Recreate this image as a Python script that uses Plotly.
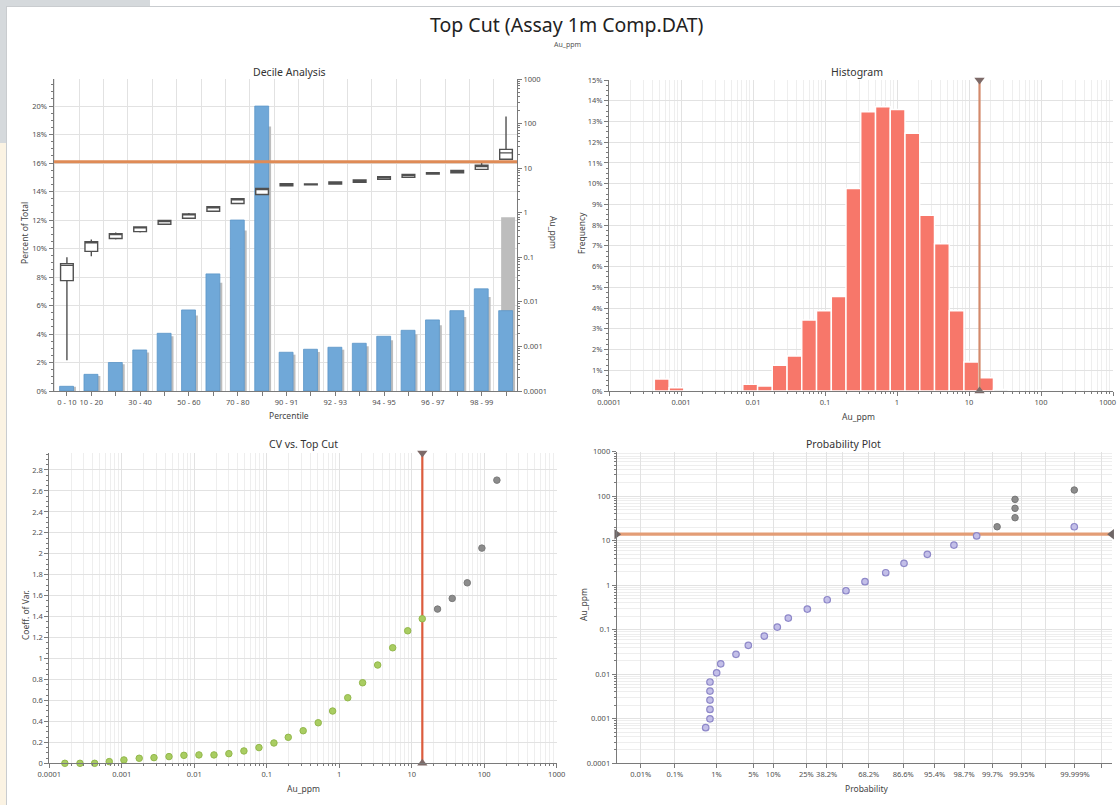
import math
from statistics import NormalDist
import plotly.graph_objects as go

W, H = 1120, 805
FONT = "Segoe UI, Noto Sans, Open Sans, sans-serif"

# ---------------- data ----------------
top_cut = 14.0

decile_labels = ["0 - 10", "10 - 20", "20 - 30", "30 - 40", "40 - 50", "50 - 60",
                 "60 - 70", "70 - 80", "80 - 90", "90 - 91", "91 - 92", "92 - 93",
                 "93 - 94", "94 - 95", "95 - 96", "96 - 97", "97 - 98", "98 - 99",
                 "99 - 100"]
decile_shown = ["0 - 10", "10 - 20", "30 - 40", "50 - 60", "70 - 80",
                "90 - 91", "92 - 93", "94 - 95", "96 - 97", "98 - 99"]
pct_topcut = [0.33, 1.17, 2.00, 2.88, 4.05, 5.69, 8.22, 12.0, 20.0,
              2.72, 2.93, 3.07, 3.35, 3.84, 4.26, 4.99, 5.64, 7.17, 5.64]
pct_raw = [0.30, 1.05, 1.87, 2.70, 3.84, 5.30, 7.60, 11.26, 18.57,
           2.55, 2.74, 2.90, 3.14, 3.56, 3.98, 4.61, 5.20, 6.60, 12.20]

box_low = [0.00049, 0.105, 0.25, 0.36, 0.53, 0.73, 1.05, 1.58, 2.50,
           3.95, 4.20, 4.40, 4.80, 5.60, 6.20, 7.30, 7.90, 9.20, 15.8]
box_q1 = [0.030, 0.136, 0.263, 0.377, 0.55, 0.75, 1.08, 1.61, 2.57,
          4.00, 4.25, 4.40, 4.80, 5.60, 6.20, 7.40, 7.90, 9.40, 15.8]
box_med = [0.066, 0.21, 0.33, 0.46, 0.65, 0.90, 1.30, 1.95, 3.30,
           4.30, 4.32, 4.70, 5.20, 6.10, 6.80, 7.70, 8.50, 10.8, 22.0]
box_q3 = [0.072, 0.224, 0.34, 0.48, 0.667, 0.94, 1.36, 2.05, 3.50,
          4.47, 4.40, 4.90, 5.40, 6.40, 7.20, 7.90, 8.90, 11.6, 26.4]
box_high = [0.100, 0.25, 0.36, 0.50, 0.69, 0.98, 1.42, 2.12, 3.60,
            4.50, 4.40, 4.90, 5.40, 6.40, 7.20, 7.90, 8.90, 13.8, 145.0]

hist_bin_ratio = 1.6  # geometric bin width
hist_center = [0.00054, 0.000865, 0.00914, 0.01466, 0.02344, 0.0376, 0.0602,
               0.0966, 0.1549, 0.2477, 0.397, 0.637, 1.02, 1.635, 2.62, 4.20,
               6.73, 10.77, 17.26, 27.7, 113.7]
hist_freq = [0.58, 0.16, 0.32, 0.24, 1.24, 1.69, 3.42, 3.87, 4.55, 9.77, 13.47,
             13.71, 13.58, 12.43, 8.47, 7.10, 3.87, 1.40, 0.64, 0.08, 0.03]

cv_cut = [0.000164, 0.000265, 0.000422, 0.000672, 0.00107, 0.00174, 0.00278,
          0.00448, 0.0072, 0.0116, 0.0187, 0.030, 0.0484, 0.078, 0.1256, 0.198,
          0.318, 0.513, 0.81, 1.31, 2.10, 3.39, 5.46, 8.8, 13.97,
          22.7, 36.2, 58.4, 92.9, 149.6]
cv_value = [0, 0, 0, 0.016, 0.032, 0.048, 0.054, 0.064, 0.076, 0.080, 0.080,
            0.092, 0.118, 0.150, 0.194, 0.248, 0.311, 0.387, 0.499, 0.626,
            0.769, 0.938, 1.103, 1.265, 1.380,
            1.472, 1.574, 1.723, 2.054, 2.703]

prob_cut_pct = [0.58, 0.724, 0.724, 0.724, 0.724, 0.724, 1.01, 1.23, 2.46, 4.09,
                7.4, 11.36, 15.74, 25.6, 38.6, 52.2, 65.7, 78.4, 86.9, 93.95,
                97.93, 99.3, 99.99894]
prob_cut_val = [0.00063, 0.001, 0.00162, 0.00263, 0.0042, 0.0067, 0.0108, 0.0172,
                0.028, 0.0446, 0.072, 0.115, 0.183, 0.292, 0.472, 0.752, 1.2,
                1.91, 3.1, 4.94, 8.0, 12.8, 20.6]
prob_raw_pct = [99.77, 99.922, 99.922, 99.922, 99.99894]
prob_raw_val = [20.6, 32.9, 53.5, 85.0, 137.7]

log_ticks = [0.0001, 0.001, 0.01, 0.1, 1, 10, 100, 1000]
log_labels = ["0.0001", "0.001", "0.01", "0.1", "1", "10", "100", "1000"]
prob_ticks = [0.01, 0.1, 1, 5, 10, 25, 38.2, 50, 68.2, 86.6, 95.4, 98.7, 99.7,
              99.95, 99.99, 99.999, 99.9999]
prob_labels = ["0.01%", "0.1%", "1%", "5%", "10%", "25%", "38.2%", "", "68.2%",
               "86.6%", "95.4%", "98.7%", "99.7%", "99.95%", "", "99.999%", ""]

# ---------------- helpers ----------------
nd = NormalDist()


def zscore(pct):
    return nd.inv_cdf(pct / 100.0)


def fx(px):
    return px / W


def fy(py):
    return 1 - py / H


minor_log = [m * 10 ** e for e in range(-4, 3) for m in range(2, 10)]

AXC = "#7a7a7a"
GRID = "#e2e2e2"
GRID_MINOR = "#eeeeee"
TICKFONT = dict(size=7.5, color="#505050", family=FONT)


def ax(**kw):
    d = dict(showline=True, linecolor=AXC, linewidth=1, ticks="outside",
             ticklen=4, tickcolor=AXC, tickfont=TICKFONT, gridcolor=GRID,
             gridwidth=1, zeroline=False, fixedrange=True, mirror=False,
             automargin=False)
    d.update(kw)
    return d


def log_ax(showgrid=True, **kw):
    d = ax(type="log", range=[-4, 3], tickmode="array", tickvals=log_ticks,
           ticktext=log_labels, showgrid=showgrid,
           minor=dict(tickmode="array", tickvals=minor_log, ticks="outside",
                      ticklen=2, tickcolor=AXC, showgrid=showgrid,
                      gridcolor=GRID_MINOR, gridwidth=1))
    d.update(kw)
    return d


fig = go.Figure()

# ---------------- decile analysis ----------------
xpos = list(range(len(decile_labels)))
fig.add_trace(go.Bar(x=xpos, y=pct_raw, width=0.57, offset=-0.2,
                     marker=dict(color="#bdbdbd", line=dict(width=0)),
                     xaxis="x", yaxis="y"))
fig.add_trace(go.Bar(x=xpos, y=pct_topcut, width=0.57, offset=-0.3,
                     marker=dict(color="#70a8d8", line=dict(color="#5c95c8", width=0.8)),
                     xaxis="x", yaxis="y"))
fig.add_trace(go.Box(x=xpos, q1=box_q1, median=box_med, q3=box_q3,
                     lowerfence=box_low, upperfence=box_high, width=0.52,
                     whiskerwidth=0, fillcolor="white",
                     line=dict(color="#505050", width=1.4),
                     boxpoints=False, xaxis="x", yaxis="y2"))
fig.add_trace(go.Scatter(x=[-0.55, 18.45], y=[top_cut, top_cut], mode="lines",
                         line=dict(color="#df8b56", width=3),
                         xaxis="x", yaxis="y2"))

# ---------------- histogram ----------------
sq = math.sqrt(hist_bin_ratio)
h_lo = [c / sq for c in hist_center]
h_hi = [c * sq for c in hist_center]
fig.add_trace(go.Bar(
    x=hist_center, y=hist_freq,
    width=[hi - lo for lo, hi in zip(h_lo, h_hi)],
    offset=[lo - c for lo, c in zip(h_lo, hist_center)],
    marker=dict(color=["#f7776a" if lo <= top_cut else "#c4c4c4" for lo in h_lo],
                line=dict(color="white", width=1.4)),
    xaxis="x3", yaxis="y3"))
fig.add_trace(go.Scatter(x=[top_cut, top_cut], y=[0, 15], mode="lines",
                         line=dict(color="#d38a6c", width=2.2),
                         xaxis="x3", yaxis="y3"))
fig.add_trace(go.Scatter(x=[top_cut, top_cut], y=[15, 0], mode="markers",
                         marker=dict(symbol=["triangle-down", "triangle-up"], size=9,
                                     color="#7d6a68"),
                         cliponaxis=False, xaxis="x3", yaxis="y3"))

# ---------------- CV vs top cut ----------------
cv_colors = ["#a9cd62" if v <= top_cut else "#8c8c8c" for v in cv_cut]
cv_lines = ["#93b84c" if v <= top_cut else "#7a7a7a" for v in cv_cut]
fig.add_trace(go.Scatter(x=[top_cut, top_cut], y=[0, 2.962], mode="lines",
                         line=dict(color="#dc5c3d", width=2.2),
                         xaxis="x4", yaxis="y4"))
fig.add_trace(go.Scatter(x=cv_cut, y=cv_value, mode="markers",
                         marker=dict(size=6.5, color=cv_colors,
                                     line=dict(color=cv_lines, width=1)),
                         cliponaxis=False, xaxis="x4", yaxis="y4"))
fig.add_trace(go.Scatter(x=[top_cut, top_cut], y=[2.962, 0], mode="markers",
                         marker=dict(symbol=["triangle-down", "triangle-up"], size=9,
                                     color="#7d6a68"),
                         cliponaxis=False, xaxis="x4", yaxis="y4"))

# ---------------- probability plot ----------------
zmin, zmax = -4.16, 4.94
fig.add_trace(go.Scatter(x=[zmin, zmax], y=[top_cut, top_cut], mode="lines",
                         line=dict(color="#e39d76", width=3.2),
                         xaxis="x5", yaxis="y5"))
fig.add_trace(go.Scatter(x=[zscore(p) for p in prob_raw_pct], y=prob_raw_val,
                         mode="markers",
                         marker=dict(size=6.5, color="#8c8c8c",
                                     line=dict(color="#767676", width=1)),
                         xaxis="x5", yaxis="y5"))
fig.add_trace(go.Scatter(x=[zscore(p) for p in prob_cut_pct], y=prob_cut_val,
                         mode="markers",
                         marker=dict(size=6.5, color="#c3bfe8",
                                     line=dict(color="#8f89c9", width=1.2)),
                         xaxis="x5", yaxis="y5"))
fig.add_trace(go.Scatter(x=[zmin, zmax], y=[top_cut, top_cut], mode="markers",
                         marker=dict(symbol=["triangle-right", "triangle-left"], size=9,
                                     color="#6f6666"),
                         cliponaxis=False, xaxis="x5", yaxis="y5"))

# ---------------- layout ----------------
dec_dom_x = [fx(53.5), fx(517)]
dec_dom_y = [fy(391), fy(79)]
hist_dom_x = [fx(609), fx(1113)]
hist_dom_y = [fy(391), fy(80)]
cv_dom_x = [fx(49.3), fx(556.7)]
cv_dom_y = [fy(763.3), fy(453)]
pp_dom_x = [fx(616.7), fx(1111.7)]
pp_dom_y = [fy(763.3), fy(451.7)]

layout = dict(
    width=W, height=H, margin=dict(l=0, r=0, t=0, b=0, autoexpand=False),
    paper_bgcolor="white", plot_bgcolor="white", showlegend=False,
    barmode="overlay", boxmode="overlay",
    font=dict(family=FONT, color="#333"),
    xaxis=ax(domain=dec_dom_x, anchor="y", range=[-0.55, 18.45],
             tickmode="array", tickvals=xpos,
             ticktext=[l if l in decile_shown else "" for l in decile_labels],
             showgrid=False,
             minor=dict(tickmode="array", tickvals=[i + 0.5 for i in range(-1, 19)],
                        ticks="", showgrid=True, gridcolor=GRID, gridwidth=1)),
    yaxis=ax(domain=dec_dom_y, anchor="x", range=[0, 21.9], dtick=2, tick0=0,
             ticksuffix="%", showgrid=True,
             minor=dict(dtick=0.5, ticks="outside", ticklen=2, tickcolor=AXC,
                        showgrid=False)),
    yaxis2=log_ax(showgrid=False, overlaying="y", side="right", anchor="x"),
    xaxis3=log_ax(domain=hist_dom_x, anchor="y3",
                  ticktext=log_labels[:-1] + [""]),
    yaxis3=ax(domain=hist_dom_y, anchor="x3", range=[0, 15], dtick=1, tick0=0,
              ticksuffix="%", showgrid=True,
              minor=dict(dtick=0.25, ticks="outside", ticklen=2, tickcolor=AXC,
                         showgrid=False)),
    xaxis4=log_ax(domain=cv_dom_x, anchor="y4"),
    yaxis4=ax(domain=cv_dom_y, anchor="x4", range=[0, 2.962], dtick=0.2, tick0=0,
              showgrid=True,
              minor=dict(dtick=0.05, ticks="outside", ticklen=2, tickcolor=AXC,
                         showgrid=False)),
    xaxis5=ax(domain=pp_dom_x, anchor="y5", range=[zmin, zmax], tickmode="array",
              tickvals=[zscore(p) for p in prob_ticks], ticktext=prob_labels,
              showgrid=True),
    yaxis5=log_ax(domain=pp_dom_y, anchor="x5"),
)


def label(text, x, y, size=8.5, angle=0, color="#444", xanchor="center"):
    return dict(text=text, x=fx(x), y=fy(y), xref="paper", yref="paper",
                showarrow=False, textangle=angle, xanchor=xanchor,
                yanchor="middle", font=dict(size=size, color=color, family=FONT))


layout["annotations"] = [
    label("Top Cut (Assay 1m Comp.DAT)", 567, 25, size=19.5, color="#222"),
    label("Au_ppm", 567, 45, size=7, color="#555"),
    label("Decile Analysis", 289, 72, size=10.5, color="#333"),
    label("Histogram", 857, 72, size=10.5, color="#333"),
    label("CV vs. Top Cut", 303, 444, size=10.5, color="#333"),
    label("Probability Plot", 843, 444, size=10.5, color="#333"),
    label("Percentile", 289, 415),
    label("Percent of Total", 25, 233, angle=-90),
    label("Au_ppm", 553, 232, angle=90),
    label("Frequency", 582, 233, angle=-90),
    label("Au_ppm", 858, 416),
    label("Coeff. of Var.", 25, 615, angle=-90),
    label("Au_ppm", 303, 788),
    label("Au_ppm", 583, 605, angle=-90),
    label("Probability", 866, 788),
    # last histogram tick label, kept inside the right edge of the page
    label("1000", 1118, 402, size=7.5, color="#505050", xanchor="right"),
]

# window chrome around the chart area
layout["shapes"] = [
    dict(type="rect", xref="paper", yref="paper", x0=0, x1=fx(150), y0=fy(6), y1=1,
         fillcolor="#d5d9dc", line=dict(width=0), layer="below"),
    dict(type="rect", xref="paper", yref="paper", x0=0, x1=fx(6), y0=fy(143), y1=1,
         fillcolor="#d5d9dc", line=dict(width=0), layer="below"),
    dict(type="rect", xref="paper", yref="paper", x0=0, x1=fx(6), y0=0, y1=fy(143),
         fillcolor="#fbf3e3", line=dict(width=0), layer="below"),
    dict(type="line", xref="paper", yref="paper", x0=fx(6), x1=1, y0=fy(6.5), y1=fy(6.5),
         line=dict(color="#c9cccf", width=1), layer="below"),
    dict(type="line", xref="paper", yref="paper", x0=fx(6.5), x1=fx(6.5), y0=0, y1=fy(6),
         line=dict(color="#c9cccf", width=1), layer="below"),
]

fig.update_layout(layout)
fig.write_html("out.html")
